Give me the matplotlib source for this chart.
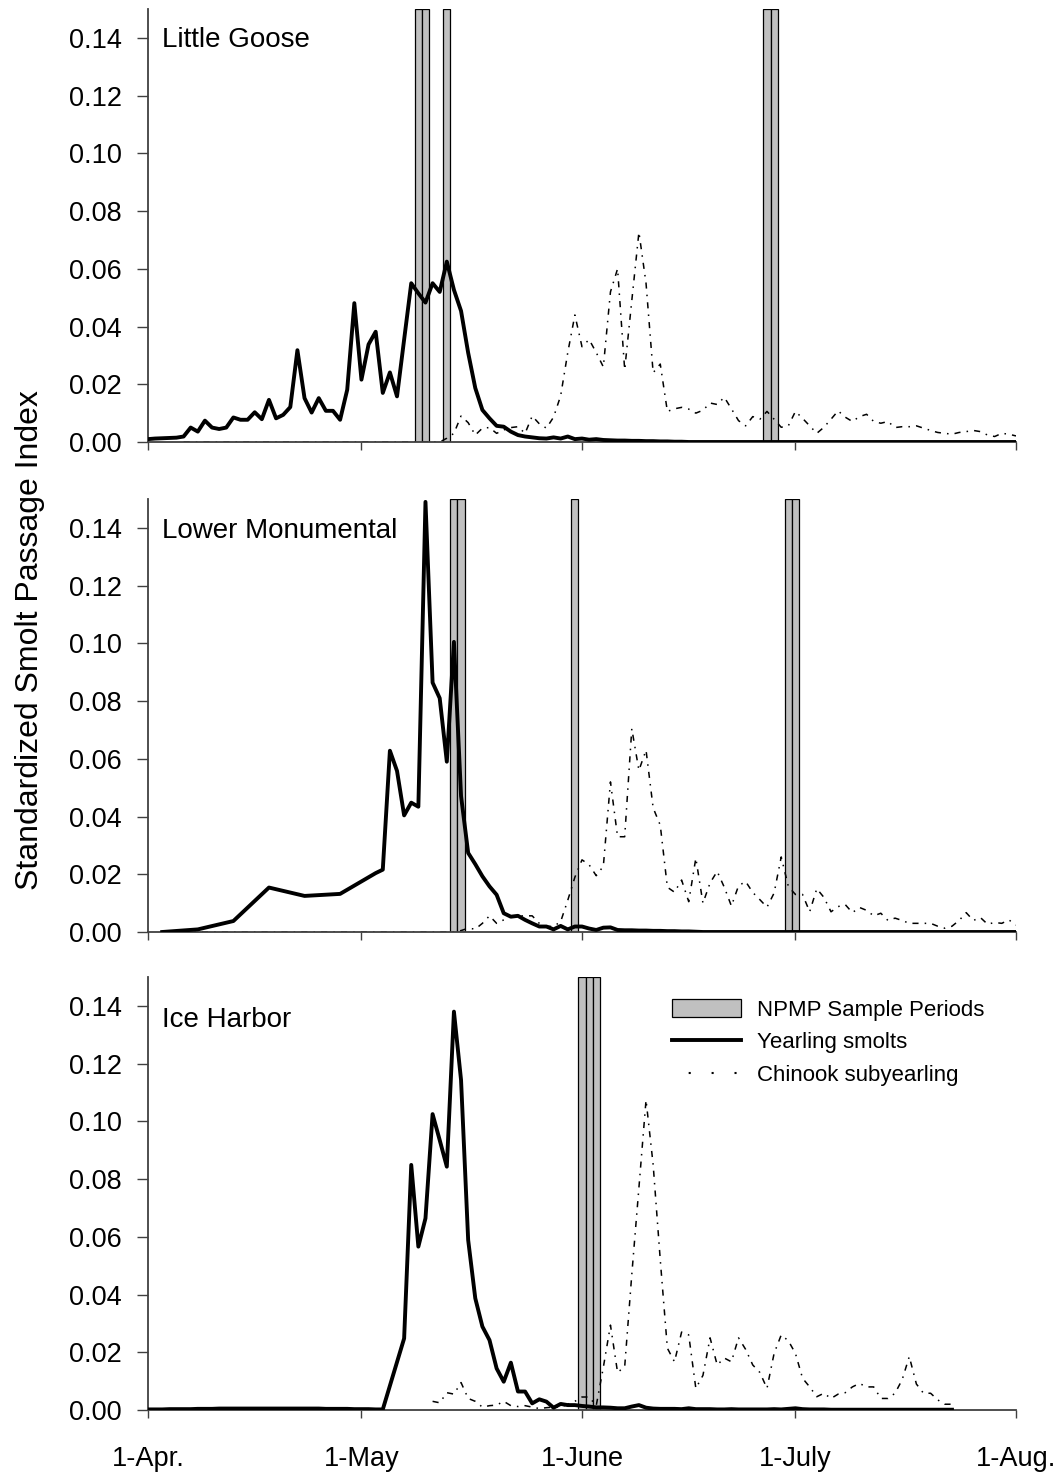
import numpy as np
import matplotlib.pyplot as plt
from matplotlib.lines import Line2D
from matplotlib.patches import Patch

plt.rcParams['font.family'] = ['Liberation Sans', 'DejaVu Sans']

# jours comptes depuis le 1er avril (1-Apr. = 0)
tick_days = [0, 30, 61, 91, 122]
tick_labels = ['1-Apr.', '1-May', '1-June', '1-July', '1-Aug.']

# ---- Little Goose
lg_samples = [38, 39, 42, 87, 88]
lg_year_start = 0
lg_year = [0.001, 0.0012, 0.0013, 0.0014, 0.0015, 0.0019, 0.005, 0.0036, 0.0074, 0.005,
           0.0045, 0.005, 0.0085, 0.0077, 0.0077, 0.0103, 0.0079, 0.0146, 0.0082, 0.0094,
           0.0121, 0.0318, 0.0152, 0.0102, 0.0152, 0.0108, 0.0108, 0.0077, 0.0181, 0.0481,
           0.0216, 0.0338, 0.0382, 0.017, 0.0241, 0.0158, 0.0355, 0.055, 0.0515, 0.0483,
           0.055, 0.052, 0.0625, 0.0527, 0.0454, 0.0309, 0.0187, 0.0111, 0.0082, 0.0056,
           0.0053, 0.0036, 0.0024, 0.0019, 0.0016, 0.0013, 0.0012, 0.0016, 0.0012, 0.0019,
           0.001, 0.0012, 0.0008, 0.001, 0.0007, 0.0006, 0.0005, 0.0005, 0.0004, 0.0004,
           0.0003, 0.0003, 0.0002, 0.0002, 0.0001, 0.0001] + [0.0] * 47
lg_chin_start = 5
lg_chin = [0.0] * 37 + [
           0.0013, 0.003, 0.009, 0.0067, 0.0024, 0.0048, 0.005, 0.003, 0.0042, 0.005,
           0.0053, 0.003, 0.009, 0.0063, 0.0048, 0.0086, 0.016, 0.031, 0.044, 0.033,
           0.0355, 0.031, 0.026, 0.052, 0.06, 0.025, 0.049, 0.0727, 0.055, 0.024,
           0.027, 0.0106, 0.0115, 0.012, 0.0114, 0.010, 0.011, 0.0135, 0.013, 0.0155,
           0.0115, 0.0074, 0.0056, 0.0088, 0.0079, 0.0106, 0.0079, 0.0051, 0.0056, 0.0106,
           0.0082, 0.0056, 0.003, 0.0051, 0.0079, 0.0108, 0.0086, 0.0071, 0.0088, 0.0096,
           0.0071, 0.0065, 0.0071, 0.005, 0.0053, 0.0053, 0.0056, 0.0048, 0.004, 0.0033,
           0.003, 0.0027, 0.0033, 0.0036, 0.004, 0.0036, 0.0024, 0.0019, 0.003, 0.0027,
           0.0021]

# ---- Lower Monumental
lm_samples = [43, 44, 60, 90, 91]
lm_year_days = [2, 7, 12, 17, 22, 27, 32] + list(range(33, 123))
lm_year = [0.0, 0.0009, 0.0038, 0.0154, 0.0125, 0.0132, 0.0204,
           0.0216, 0.0628, 0.0558, 0.0404, 0.0448, 0.0434, 0.149, 0.0864, 0.081, 0.059,
           0.1005, 0.0471, 0.0274, 0.0235, 0.0193, 0.0158, 0.0129, 0.0065, 0.0053, 0.0056,
           0.0042, 0.003, 0.0019, 0.0019, 0.0009, 0.0021, 0.0009, 0.0019, 0.0019, 0.0012,
           0.0007, 0.0015, 0.0016, 0.0007, 0.0006, 0.0006, 0.0005, 0.0005, 0.0004, 0.0004,
           0.0003, 0.0003, 0.0002, 0.0002, 0.0001] + [0.0] * 45
lm_chin_start = 2
lm_chin = [0.0] * 42 + [
           0.0005, 0.0013, 0.001, 0.003, 0.0056, 0.003, 0.0042, 0.0053, 0.0056, 0.0056,
           0.0056, 0.003, 0.002, 0.0019, 0.0036, 0.011, 0.019, 0.025, 0.0233, 0.0195,
           0.0228, 0.052, 0.033, 0.033, 0.0704, 0.056, 0.063, 0.043, 0.037, 0.0155,
           0.0138, 0.018, 0.0105, 0.0256, 0.01, 0.017, 0.021, 0.0155, 0.009, 0.016,
           0.0175, 0.0137, 0.0112, 0.0086, 0.0135, 0.026, 0.0158, 0.013, 0.013, 0.007,
           0.015, 0.012, 0.007, 0.0088, 0.0095, 0.0067, 0.0085, 0.0075, 0.0056, 0.0065,
           0.004, 0.0048, 0.004, 0.003, 0.003, 0.003, 0.003, 0.002, 0.0013, 0.002,
           0.004, 0.0067, 0.004, 0.005, 0.0027, 0.0033, 0.003, 0.0042, 0.0024]

# ---- Ice Harbor
ih_samples = [61, 62, 63]
ih_year_days = list(range(0, 34)) + list(range(36, 114))
ih_year = [0.0002, 0.0002, 0.0002, 0.0003, 0.0003, 0.0003, 0.0003, 0.0004, 0.0004, 0.0004,
           0.0005, 0.0005, 0.0005, 0.0005, 0.0005, 0.0005, 0.0005, 0.0005, 0.0005, 0.0005,
           0.0005, 0.0005, 0.0005, 0.0005, 0.0005, 0.0004, 0.0004, 0.0004, 0.0004, 0.0003,
           0.0003, 0.0003, 0.0002, 0.0002,
           0.0248, 0.0849, 0.0566, 0.0664, 0.1025, 0.0935, 0.0843, 0.138, 0.1143, 0.0589,
           0.0387, 0.0289, 0.0242, 0.0144, 0.0098, 0.0164, 0.0064, 0.0064, 0.0023, 0.0037,
           0.0029, 0.0008, 0.0021, 0.0017, 0.0017, 0.0014, 0.0012, 0.0009, 0.0009, 0.0008,
           0.0006, 0.0006, 0.0012, 0.0017, 0.0008, 0.0005, 0.0004, 0.0004, 0.0004, 0.0003,
           0.0006, 0.0003, 0.0003, 0.0003, 0.0002, 0.0002, 0.0003, 0.0002, 0.0002, 0.0002,
           0.0002, 0.0002, 0.0003, 0.0002, 0.0004, 0.0006, 0.0003, 0.0002, 0.0002, 0.0002] + [0.0001] * 18
ih_chin_start = 40
ih_chin = [0.003, 0.0025, 0.006, 0.0055, 0.0095, 0.004, 0.003, 0.001, 0.0015, 0.0017,
           0.003, 0.0015, 0.0012, 0.0015, 0.001, 0.0005, 0.0008, 0.001, 0.001, 0.002,
           0.003, 0.0045, 0.0045, 0.0015, 0.0148, 0.0294, 0.013, 0.015, 0.047, 0.077,
           0.1074, 0.085, 0.052, 0.0214, 0.0167, 0.027, 0.026, 0.0075, 0.012, 0.025,
           0.0156, 0.018, 0.0167, 0.025, 0.021, 0.0156, 0.013, 0.0075, 0.0196, 0.026,
           0.024, 0.0196, 0.011, 0.008, 0.0046, 0.0058, 0.004, 0.0055, 0.006, 0.008,
           0.0092, 0.008, 0.008, 0.004, 0.004, 0.0058, 0.0105, 0.0185, 0.009, 0.0058,
           0.0058, 0.0035, 0.002, 0.002]

panels = [
    ('Little Goose', lg_samples, list(range(lg_year_start, lg_year_start + len(lg_year))), lg_year,
     list(range(lg_chin_start, lg_chin_start + len(lg_chin))), lg_chin, 1 - 442 / 1477, 0.912),
    ('Lower Monumental', lm_samples, lm_year_days, lm_year,
     list(range(lm_chin_start, lm_chin_start + len(lm_chin))), lm_chin, 1 - 932 / 1477, 0.909),
    ('Ice Harbor', ih_samples, ih_year_days, ih_year,
     list(range(ih_chin_start, ih_chin_start + len(ih_chin))), ih_chin, 1 - 1410 / 1477, 0.884),
]

gris = '#c0c0c0'
axe_col = '#404040'
chin_style = (0, (4, 4, 1, 4))

fig = plt.figure(figsize=(10.6, 14.77), dpi=100)
axes = []
for i, (nom, samples, yd, yv, cd, cv, bottom, ty) in enumerate(panels):
    ax = fig.add_axes([148 / 1060, bottom, 868 / 1060, 433 / 1477])
    ax.bar(samples, [0.15] * len(samples), width=1, color=gris, edgecolor='black',
           linewidth=0.9, zorder=1)
    ax.plot(cd, cv, color='black', lw=1.1, linestyle=chin_style, zorder=2)
    ax.plot(yd, yv, color='black', lw=2.8, zorder=3)
    ax.set_xlim(0, 122)
    ax.set_ylim(0, 0.15)
    ax.spines['top'].set_visible(False)
    ax.spines['right'].set_visible(False)
    for s in ['left', 'bottom']:
        ax.spines[s].set_color(axe_col)
        ax.spines[s].set_linewidth(1.3)
    ax.set_yticks(np.arange(0, 0.141, 0.02))
    ax.set_yticklabels(['%.2f' % v for v in np.arange(0, 0.141, 0.02)])
    ax.set_xticks(tick_days)
    if i == 2:
        ax.set_xticklabels(tick_labels)
    else:
        ax.set_xticklabels([])
    ax.tick_params(axis='y', direction='out', length=8, width=1, color=axe_col, pad=11, labelsize=19.5)
    ax.tick_params(axis='x', direction='out', length=6, width=1, color=axe_col, pad=20, labelsize=19.5)
    ax.text(0.0158, ty, nom, transform=ax.transAxes, fontsize=20, va='baseline', ha='left')
    axes.append(ax)

handles = [Patch(facecolor=gris, edgecolor='black', linewidth=0.9),
           Line2D([], [], color='black', lw=2.8),
           Line2D([], [], color='black', lw=1.5, linestyle=(3, (1, 10)))]
axes[2].legend(handles, ['NPMP Sample Periods', 'Yearling smolts', 'Chinook subyearling'],
               loc='upper left', bbox_to_anchor=(0.604, 0.949), frameon=False, fontsize=16,
               handlelength=3.1, handleheight=0.85, handletextpad=0.7, labelspacing=0.5,
               borderpad=0, borderaxespad=0)

fig.text(0.028, 1 - 640 / 1477, 'Standardized Smolt Passage Index', rotation=90,
         va='center', ha='center', fontsize=23)

fig.savefig('out.png', dpi=100)
